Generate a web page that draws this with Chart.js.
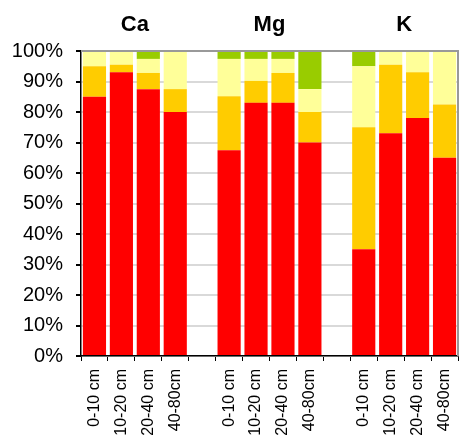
<!DOCTYPE html>
<html lang="en">
<head>
  <meta charset="UTF-8">
  <title>Ca Mg K</title>
  <style>
    html, body { margin: 0; padding: 0; background: #fff; }
    .chart { position: relative; width: 459px; height: 437px; }
  </style>
</head>
<body>
  <div class="chart">
    <canvas id="chart"></canvas>
  </div>
  <script src="https://cdn.jsdelivr.net/npm/chart.js@4/dist/chart.umd.min.js"></script>
  <script>
    // categories: 4 depths per element, empty slot between groups
    const labels = ['0-10 cm', '10-20 cm', '20-40 cm', '40-80cm', '',
                    '0-10 cm', '10-20 cm', '20-40 cm', '40-80cm', '',
                    '0-10 cm', '10-20 cm', '20-40 cm', '40-80cm'];
    const groups = ['Ca', 'Mg', 'K'];

    // shares in % (bottom to top)
    const red    = [85, 93, 87.5, 80, null, 67.5, 83, 83, 70, null, 35, 73, 78, 65];
    const orange = [10, 2.5, 5.3, 7.5, null, 17.7, 7.2, 9.8, 10, null, 40, 22.5, 15, 17.5];
    const yellow = [5, 4.5, 4.6, 12.5, null, 12.2, 7.2, 4.6, 7.5, null, 20, 4.5, 7, 17.5];
    const green  = [0, 0, 2.6, 0, null, 2.6, 2.6, 2.6, 12.5, null, 5, 0, 0, 0];

    const font = 'Arial, "Liberation Sans", sans-serif';

    const groupTitles = {
      id: 'groupTitles',
      afterDraw(chart) {
        const ctx = chart.ctx;
        const x = chart.scales.x;
        ctx.save();
        ctx.font = 'bold 22px ' + font;
        ctx.fillStyle = '#000';
        ctx.textAlign = 'center';
        ctx.textBaseline = 'alphabetic';
        groups.forEach((g, i) => {
          const a = x.getPixelForValue(i * 5 + 1);
          const b = x.getPixelForValue(i * 5 + 2);
          ctx.fillText(g, (a + b) / 2, 31);
        });
        // plot frame: top and right in grey
        const area = chart.chartArea;
        ctx.strokeStyle = '#999';
        ctx.lineWidth = 2;
        ctx.beginPath();
        ctx.moveTo(area.left, area.top);
        ctx.lineTo(area.right, area.top);
        ctx.lineTo(area.right, area.bottom);
        ctx.stroke();
        ctx.restore();
      }
    };

    new Chart(document.querySelector('#chart'), {
      type: 'bar',
      data: {
        labels,
        datasets: [
          { label: 'red', data: red, backgroundColor: '#FF0000' },
          { label: 'orange', data: orange, backgroundColor: '#FFCC00' },
          { label: 'yellow', data: yellow, backgroundColor: '#FFFF99' },
          { label: 'green', data: green, backgroundColor: '#99CC00' }
        ]
      },
      options: {
        responsive: true,
        maintainAspectRatio: false,
        animation: false,
        layout: { padding: { top: 51, right: 1, left: 0, bottom: 0 } },
        datasets: { bar: { barPercentage: 0.86, categoryPercentage: 1 } },
        plugins: { legend: { display: false }, tooltip: { enabled: false } },
        scales: {
          x: {
            stacked: true,
            afterFit: (s) => { s.height = 81; s.paddingLeft = 0; s.paddingRight = 0; },
            grid: { offset: true, drawOnChartArea: false, tickLength: 5, tickColor: '#000', lineWidth: 1 },
            border: { color: '#000', width: 1.5 },
            ticks: {
              autoSkip: false, minRotation: 90, maxRotation: 90, padding: 8,
              color: '#000', font: { family: font, size: 16 }
            }
          },
          y: {
            stacked: true,
            min: 0, max: 100,
            afterFit: (s) => { s.width = 81; s.paddingTop = 0; s.paddingBottom = 0; },
            grid: { color: '#d9d9d9', lineWidth: 2, tickLength: 5, tickColor: '#000' },
            border: { color: '#000', width: 1.5 },
            ticks: {
              stepSize: 10, padding: 13, color: '#000',
              font: { family: font, size: 20 },
              callback: (v) => v + '%'
            }
          }
        }
      },
      plugins: [groupTitles]
    });
  </script>
</body>
</html>
